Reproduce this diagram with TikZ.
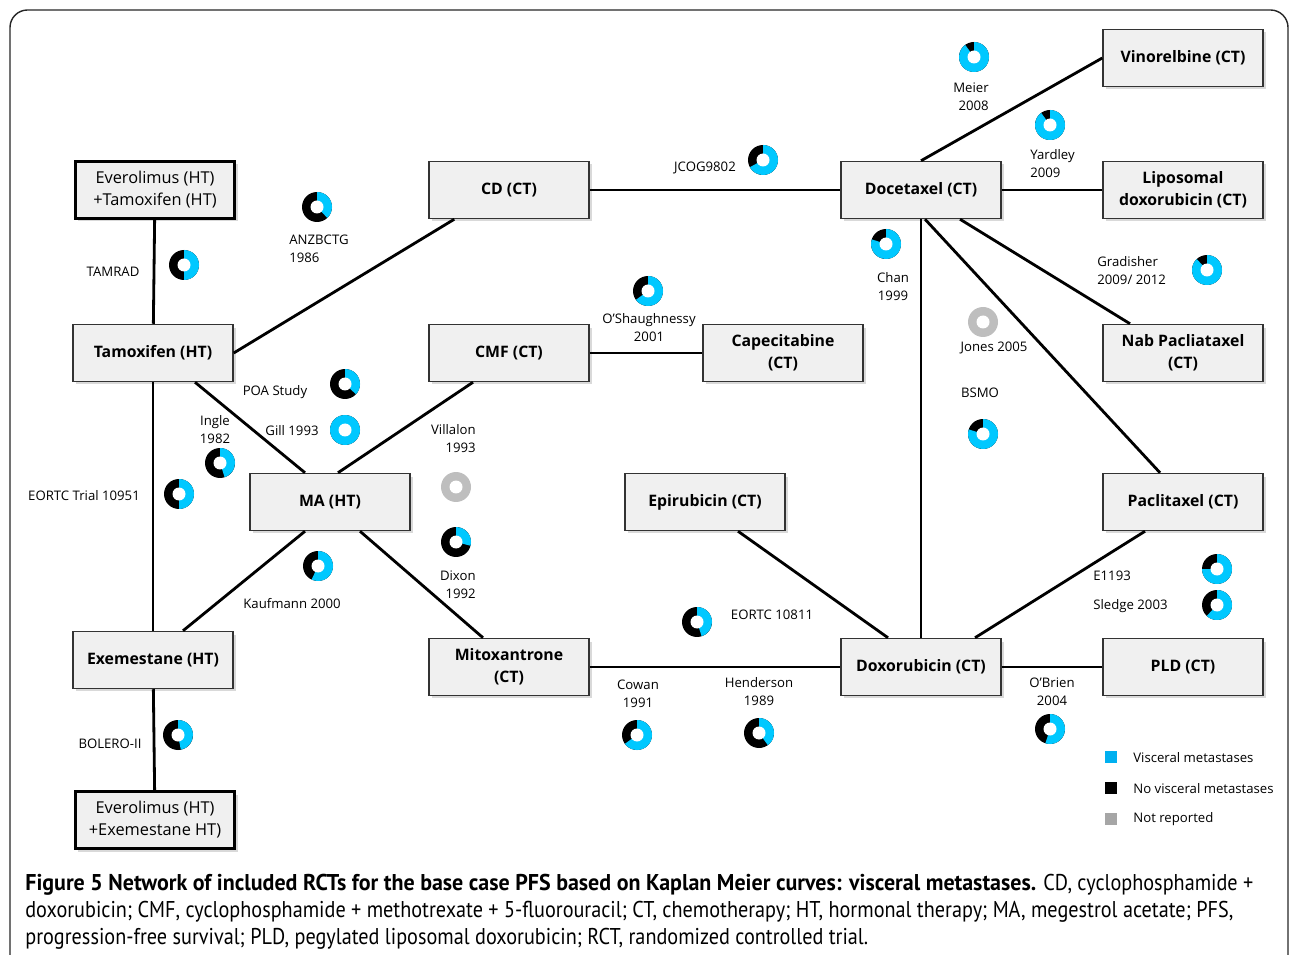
\documentclass[tikz,border=0pt]{standalone}
\usepackage{fontspec}
\setmainfont{Open Sans}
\newfontfamily\capfont[FakeStretch=0.885]{PT Sans}
\newfontfamily\capbold[FakeStretch=0.962]{PT Sans}
\usetikzlibrary{calc,shadows}

\definecolor{viscyan}{RGB}{0,200,255}
\definecolor{legcyan}{RGB}{0,176,240}
\definecolor{nrgray}{RGB}{190,190,190}
\definecolor{leggray}{RGB}{166,166,166}
\definecolor{boxfill}{RGB}{240,240,240}

\tikzset{
  drug/.style={draw=black!80, fill=boxfill, line width=0.85pt,
    minimum width=3.2cm, minimum height=1.14cm, align=center, inner sep=2pt,
    font=\fontsize{9}{12.5}\selectfont\bfseries,
    drop shadow={opacity=0.3, shadow xshift=0.06cm, shadow yshift=-0.06cm}},
  combo/.style={drug, draw=black, line width=1.7pt, font=\fontsize{9.3}{12.5}\selectfont},
  trial/.style={font=\fontsize{7.5}{10.2}\selectfont, inner sep=0pt, align=center},
  link/.style={line width=1.6pt},
}

% ring: centre, share of visceral metastases
\newcommand{\ring}[2]{%
  \fill[black] (#1) circle (0.3cm);
  \fill[viscyan] (#1) -- ++(90:0.3cm) arc[start angle=90, delta angle=-360*#2, radius=0.3cm] -- cycle;
  \fill[white] (#1) circle (0.13cm);
}
\newcommand{\nrring}[1]{%
  \fill[nrgray] (#1) circle (0.3cm);
  \fill[white] (#1) circle (0.13cm);
}

\begin{document}
\begin{tikzpicture}[x=0.02cm, y=-0.02cm]
  \useasboundingbox (0,0) rectangle (1290,955);
  \draw[black!85, line width=0.8pt, rounded corners=0.35cm] (10,990) -- (10,10) -- (1288,10) -- (1288,990);

  % treatments
  \node[combo] (evtam) at (155,190) {Everolimus (HT)\\+Tamoxifen (HT)};
  \node[drug] (tam) at (153,353) {Tamoxifen (HT)};
  \node[drug] (exe) at (153,660) {Exemestane (HT)};
  \node[combo] (evexe) at (155,820) {Everolimus (HT)\\+Exemestane HT)};
  \node[drug] (cd) at (509,190) {CD (CT)};
  \node[drug] (cmf) at (509,353) {CMF (CT)};
  \node[drug] (ma) at (330,502) {MA (HT)};
  \node[drug] (mito) at (509,667) {Mitoxantrone\\(CT)};
  \node[drug] (cape) at (783,353) {Capecitabine\\(CT)};
  \node[drug] (epi) at (705,502) {Epirubicin (CT)};
  \node[drug] (doc) at (921,190) {Docetaxel (CT)};
  \node[drug] (dox) at (921,667) {Doxorubicin (CT)};
  \node[drug] (vin) at (1183,58) {Vinorelbine (CT)};
  \node[drug] (lipo) at (1183,190) {Liposomal\\doxorubicin (CT)};
  \node[drug] (nab) at (1183,353) {Nab Pacliataxel\\(CT)};
  \node[drug] (pac) at (1183,502) {Paclitaxel (CT)};
  \node[drug] (pld) at (1183,667) {PLD (CT)};

  % comparisons
  \begin{scope}[link]
    \draw (evtam) -- (tam);
    \draw (tam) -- (exe);
    \draw (exe) -- (evexe);
    \draw (tam.east) -- ($(cd.south west)+(26,0)$);
    \draw ($(tam.south)+(42,0)$) -- ($(ma.north)+(-25,0)$);
    \draw ($(cmf.south)+(-36,0)$) -- ($(ma.north)+(8,0)$);
    \draw ($(ma.south)+(-25,0)$) -- ($(exe.north)+(30,0)$);
    \draw ($(ma.south)+(30,0)$) -- ($(mito.north)+(-26,0)$);
    \draw (cd) -- (doc);
    \draw (cmf) -- (cape);
    \draw (mito) -- (dox);
    \draw ($(epi.south)+(33,0)$) -- ($(dox.north)+(-33,0)$);
    \draw (doc) -- (dox);
    \draw (doc.north) -- (vin.west);
    \draw (doc) -- (lipo);
    \draw ($(doc.south)+(39,0)$) -- ($(nab.north)+(-53,0)$);
    \draw ($(doc.south)+(4,0)$) -- ($(pac.north)+(-23,0)$);
    \draw ($(pac.south)+(-38,0)$) -- ($(dox.north)+(54,0)$);
    \draw (dox) -- (pld);
  \end{scope}

  % trials
  \node[trial, anchor=east, align=right] (meier) at (989,97) {Meier\\2008};
  \node[trial, anchor=west, align=left] (yardley) at (1030,164) {Yardley\\2009};
  \node[trial] (jcog) at (705,168) {JCOG9802};
  \node[trial, anchor=west, align=left] (anz) at (289,249) {ANZBCTG\\1986};
  \node[trial] (tamrad) at (113,272) {TAMRAD};
  \node[trial] (chan) at (893,287) {Chan\\1999};
  \node[trial] (osh) at (649,328) {O'Shaughnessy\\2001};
  \node[trial, anchor=west, align=left] (gradisher) at (1097,271) {Gradisher\\2009/ 2012};
  \node[trial] (jones) at (994,348) {Jones 2005};
  \node[trial] (bsmo) at (980,393) {BSMO};
  \node[trial] (poa) at (275,392) {POA Study};
  \node[trial] (gill) at (292,431) {Gill 1993};
  \node[trial] (ingle) at (215,430) {Ingle\\1982};
  \node[trial] (eortcA) at (84,496) {EORTC Trial 10951};
  \node[trial, anchor=east, align=right] (villalon) at (476,439) {Villalon\\1993};
  \node[trial, anchor=east, align=right] (dixon) at (476,585) {Dixon\\1992};
  \node[trial] (kaufmann) at (292,604) {Kaufmann 2000};
  \node[trial] (eortcB) at (772,615) {EORTC 10811};
  \node[trial] (cowan) at (638,694) {Cowan\\1991};
  \node[trial] (henderson) at (759,692) {Henderson\\1989};
  \node[trial] (obrien) at (1052,692) {O'Brien\\2004};
  \node[trial, anchor=west] (e1193) at (1093,576) {E1193};
  \node[trial, anchor=west] (sledge) at (1093,606) {Sledge 2003};
  \node[trial] (bolero) at (110,744) {BOLERO-II};

  % rings
  \ring{974,57}{0.9}
  \ring{1050,125}{0.9}
  \ring{763,160}{0.67}
  \ring{317,207}{0.38}
  \ring{184,265}{0.5}
  \ring{886,244}{0.8}
  \ring{648,291}{0.65}
  \ring{1207,270}{0.88}
  \nrring{983,322}
  \ring{983,434}{0.8}
  \ring{345,384}{0.37}
  \ring{345,430}{1}
  \ring{220,463}{0.45}
  \ring{179,494}{0.5}
  \nrring{456,487}
  \ring{456,542}{0.29}
  \ring{318,566}{0.57}
  \ring{697,622}{0.45}
  \ring{637,735}{0.65}
  \ring{759,733}{0.4}
  \ring{1050,729}{0.55}
  \ring{1217,569}{0.75}
  \ring{1217,605}{0.62}
  \ring{178,735}{0.47}

  % legend
  \fill[legcyan] (1105,751) rectangle (1117,763);
  \fill[black] (1105,782) rectangle (1117,794);
  \fill[leggray] (1105,813) rectangle (1117,825);
  \node[trial, anchor=west] (legvis) at (1133,758) {Visceral metastases};
  \node[trial, anchor=west] (legno) at (1133,789) {No visceral metastases};
  \node[trial, anchor=west] (legnr) at (1133,819) {Not reported};

  % caption
  \node[anchor=north west, align=left, inner sep=0pt, font=\capfont\fontsize{13}{15.3}\selectfont] (caption) at (25,874)
    {{\capbold\bfseries Figure 5 Network of included RCTs for the base case PFS based on Kaplan Meier curves: visceral metastases.} CD, cyclophosphamide +\\
     doxorubicin; CMF, cyclophosphamide + methotrexate + 5-fluorouracil; CT, chemotherapy; HT, hormonal therapy; MA, megestrol acetate; PFS,\\
     progression-free survival; PLD, pegylated liposomal doxorubicin; RCT, randomized controlled trial.};
\end{tikzpicture}
\end{document}
